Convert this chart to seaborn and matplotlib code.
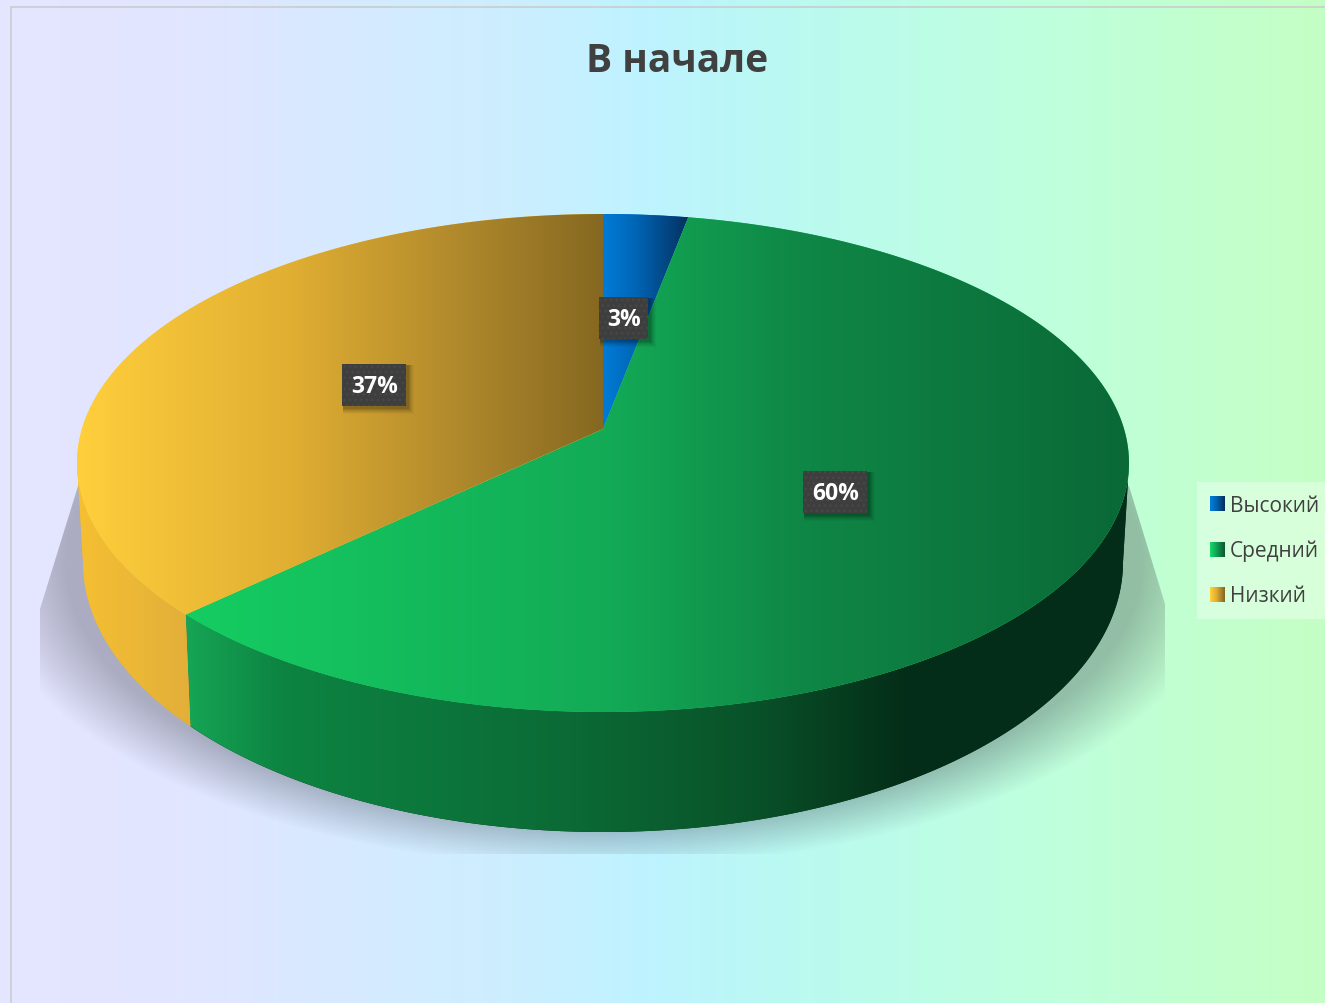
import numpy as np
import matplotlib
matplotlib.use("Agg")
import matplotlib.pyplot as plt
import seaborn as sns
from matplotlib.patches import Polygon, Rectangle
from matplotlib.legend_handler import HandlerBase
from matplotlib.colors import to_rgb

categories = ["Высокий", "Средний", "Низкий"]
values = [3, 60, 37]
title = "В начале"
labels = ["3%", "60%", "37%"]
label_radius = [0.531, 0.476, 0.505]

W, H = 1325, 1004
sns.set_theme(style="white")
plt.rcParams["font.family"] = ["Open Sans", "DejaVu Sans"]


def rgb(*c):
    return tuple(v / 255 for v in c)


top_stops = [
    [(0, rgb(0, 124, 215)), (0.4, rgb(0, 100, 180)), (1, rgb(5, 48, 95))],
    [(0, rgb(21, 205, 98)), (0.45, rgb(19, 170, 86)), (0.65, rgb(15, 135, 70)), (1, rgb(10, 105, 55))],
    [(0, rgb(255, 207, 60)), (0.4, rgb(225, 175, 50)), (0.7, rgb(180, 140, 45)), (1, rgb(133, 104, 33))],
]
side_stops = [
    None,
    [(0, rgb(22, 165, 85)), (0.1, rgb(13, 132, 66)), (0.42, rgb(11, 105, 53)), (0.6, rgb(9, 82, 41)),
     (0.76, rgb(4, 46, 24)), (1, rgb(3, 45, 26))],
    [(0, rgb(245, 192, 50)), (1, rgb(226, 175, 58))],
]
legend_stops = [top_stops[0], [(0, rgb(21, 215, 105)), (1, rgb(10, 90, 50))], top_stops[2]]


def ramp(stops, n=512):
    xs = np.linspace(0, 1, n)
    p = [s[0] for s in stops]
    cols = np.array([s[1] for s in stops])
    return np.stack([np.interp(xs, p, cols[:, i]) for i in range(3)], axis=1)[None, :, :]


fig = plt.figure(figsize=(W / 100, H / 100), dpi=100)
ax = fig.add_axes([0, 0, 1, 1])

# the pie itself supplies the slice angles
wedges, _ = ax.pie(values, startangle=90, counterclock=False, radius=1e-6, center=(603, 464))
thetas = [(w.theta1, w.theta2) for w in wedges]
for w in wedges:
    w.remove()
ax.set_aspect("auto")
ax.set_xlim(0, W)
ax.set_ylim(H, 0)
ax.axis("off")

# background
bg_pos = [0, 180, 320, 500, 650, 800, 1000, 1325]
bg_col = [rgb(229, 229, 255), rgb(226, 230, 255), rgb(216, 233, 255), rgb(205, 238, 255), rgb(190, 243, 255),
          rgb(186, 250, 240), rgb(190, 255, 225), rgb(196, 255, 196)]
xs = np.arange(W)
bg = np.stack([np.interp(xs, bg_pos, [c[i] for c in bg_col]) for i in range(3)], axis=1)[None, :, :]
ax.imshow(bg, extent=(0, W, H, 0), aspect="auto", zorder=0)
ax.plot([11, 11], [8, H], color=rgb(200, 205, 205), lw=1.2, zorder=1)
ax.plot([11, W], [8, 8], color=rgb(200, 205, 205), lw=1.2, zorder=1)

# geometry of the tilted disc
CX, CY, RX, RY = 603, 464, 526, 249
BY, BRX, BRY = 563, 520, 270
APEX_Y = (CY - 430) / RY


def ray_len(deg):
    d = np.array([np.cos(np.radians(deg)), np.sin(np.radians(deg))])
    b = APEX_Y * d[1]
    return -b + np.sqrt(b * b + 1 - APEX_Y ** 2), d


def rim_angle(deg):
    s, d = ray_len(deg)
    phi = np.degrees(np.arctan2(APEX_Y + s * d[1], s * d[0]))
    while phi < deg - 90:
        phi += 360
    while phi > deg + 90:
        phi -= 360
    return phi


def top_xy(phi):
    r = np.radians(phi)
    return CX + RX * np.cos(r), CY - RY * np.sin(r)


def bottom_xy(phi):
    r = np.radians(phi)
    return CX + BRX * np.cos(r), BY - BRY * np.sin(r)


# soft floor shadow
yy, xx = np.mgrid[0:H, 0:W]
s = np.sqrt(((xx - 603) / 625.0) ** 2 + ((yy - 563) / 305.0) ** 2)
alpha = 0.3 * np.clip((1 - s) / 0.14, 0, 1)
shadow = np.zeros((H, W, 4))
shadow[..., :3] = rgb(40, 40, 50)
shadow[..., 3] = alpha
im = ax.imshow(shadow, extent=(0, W, H, 0), aspect="auto", zorder=2)
clip = Polygon([(78, 487), (40, 610), (40, 855), (1165, 855), (1165, 605), (1129, 487)],
               transform=ax.transData, fill=False, lw=0)
ax.add_patch(clip)
im.set_clip_path(clip)

# slices: sides first, then top faces
for i, (t1, t2) in enumerate(thetas):
    if t1 < 0:
        t1, t2 = t1 + 360, t2 + 360
    p1, p2 = rim_angle(t1), rim_angle(t2)
    lo, hi = max(p1, 180), min(p2, 360)
    if lo < hi and side_stops[i] is not None:
        ph = np.linspace(lo, hi, 200)
        tx, ty = top_xy(ph)
        bx, by = bottom_xy(ph)
        poly = np.vstack([np.column_stack([tx, ty]), np.column_stack([bx, by])[::-1]])
        x0, x1 = poly[:, 0].min(), poly[:, 0].max()
        patch = Polygon(poly, closed=True, facecolor=to_rgb(side_stops[i][-1][1]), lw=0, zorder=3)
        ax.add_patch(patch)
        img = ax.imshow(ramp(side_stops[i]), extent=(x0, x1, 840, 440), aspect="auto", zorder=3)
        img.set_clip_path(patch)

for i, (t1, t2) in enumerate(thetas):
    if t1 < 0:
        t1, t2 = t1 + 360, t2 + 360
    p1, p2 = rim_angle(t1), rim_angle(t2)
    ph = np.linspace(p1, p2, 300)
    tx, ty = top_xy(ph)
    poly = np.vstack([[CX, CY - APEX_Y * RY], np.column_stack([tx, ty])])
    x0, x1 = poly[:, 0].min(), poly[:, 0].max()
    patch = Polygon(poly, closed=True, facecolor=to_rgb(top_stops[i][0][1]), lw=0, zorder=4)
    ax.add_patch(patch)
    img = ax.imshow(ramp(top_stops[i]), extent=(x0, x1, 720, 210), aspect="auto", zorder=4)
    img.set_clip_path(patch)

# data labels
for (t1, t2), lab, frac in zip(thetas, labels, label_radius):
    mid = (t1 + t2) / 2
    sl, d = ray_len(mid)
    lx = CX + RX * frac * sl * d[0] - (2 if len(lab) == 2 else 0)
    ly = CY - APEX_Y * RY - RY * frac * sl * d[1] + 2.5
    bw = 49 if len(lab) == 2 else 64
    bh = 42
    for k, a in zip((7, 6, 5, 4, 3, 2), (0.03, 0.04, 0.05, 0.06, 0.08, 0.1)):
        ax.add_patch(Rectangle((lx - bw / 2 + 1, ly - bh / 2 + 1), bw + k, bh + k, facecolor="black",
                               alpha=a, lw=0, zorder=5))
    ax.add_patch(Rectangle((lx - bw / 2, ly - bh / 2), bw, bh, facecolor=rgb(62, 62, 62),
                           edgecolor=rgb(72, 72, 72), hatch="...", lw=0, zorder=6))
    ax.text(lx, ly + 1, lab, color="white", fontsize=16.5, fontweight="bold", ha="center", va="center", zorder=7)

ax.text(677, 62, title, color=rgb(64, 64, 64), fontsize=28, fontweight="bold", ha="center", va="center", zorder=7)


class GradHandler(HandlerBase):
    def __init__(self, stops):
        super().__init__()
        self.stops = stops

    def create_artists(self, legend, orig, xd, yd, width, height, fontsize, trans):
        cols = ramp(self.stops, 15)[0]
        step = 0.72  # one pixel in points at 100 dpi
        side = 15 * step
        y0 = -yd + (height - side) / 2
        return [Rectangle((-xd + j * step, y0), step * 1.2, side, facecolor=c, lw=0, transform=trans)
                for j, c in enumerate(cols)]


handles = [Rectangle((0, 0), 1, 1, label=c) for c in categories]
leg = ax.legend(handles=handles, handler_map={h: GradHandler(st) for h, st in zip(handles, legend_stops)},
                loc="upper left", bbox_to_anchor=(1197 / W, 1 - 483 / H), bbox_transform=ax.transAxes,
                borderaxespad=0, fontsize=15, frameon=True, fancybox=False, framealpha=0.35,
                facecolor="white", edgecolor="none", handlelength=0.72, handletextpad=0.24,
                labelspacing=1.15, borderpad=0.62, labelcolor=rgb(64, 64, 64))
leg.set_zorder(8)

fig.savefig("out.png", dpi=100)
